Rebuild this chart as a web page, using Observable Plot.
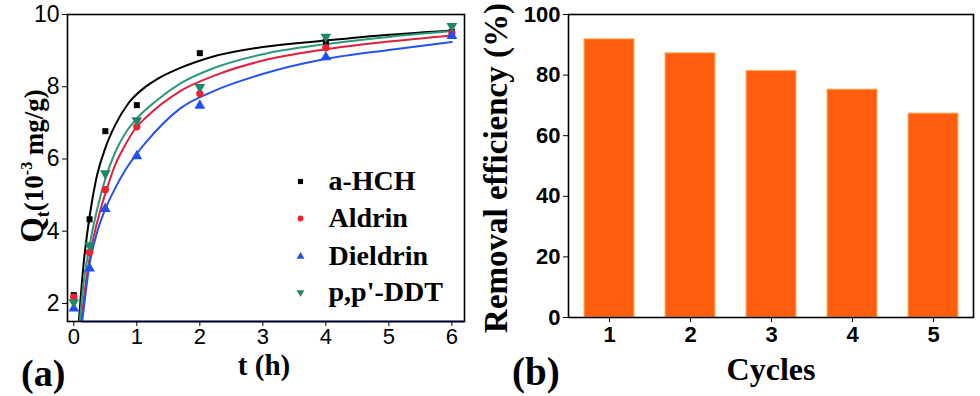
<!DOCTYPE html>
<html><head><meta charset="utf-8">
<script src="https://cdn.jsdelivr.net/npm/d3@7"></script>
<script src="https://cdn.jsdelivr.net/npm/@observablehq/plot@0.6"></script>
<style>
html,body{margin:0;padding:0;background:#fff;}
#wrap{position:relative;width:980px;height:396px;overflow:hidden;background:#fff;}
#a,#b{position:absolute;top:0;}
#a{left:0px} #b{left:480px}
svg{overflow:visible}
</style></head><body><div id="wrap"><div id="a"></div><div id="b"></div></div>
<script>
// ---------- Panel (a) data ----------
const series = ["a-HCH", "Aldrin", "Dieldrin", "p,p'-DDT"];
const tPoints = [0, 0.25, 0.5, 1, 2, 4, 6];
const qHCH      = [2.23, 4.33, 6.77, 7.49, 8.93, 9.24, 9.52];
const qAldrin   = [2.17, 3.41, 5.15, 6.89, 7.81, 9.08, 9.49];
const qDieldrin = [1.86, 2.97, 4.62, 6.08, 7.48, 8.82, 9.41];
const qDDT      = [2.03, 3.61, 5.60, 7.07, 7.99, 9.38, 9.68];

// fitted curves
const fitT_HCH = [0.08, 0.15, 0.25, 0.35, 0.5, 0.66, 0.87, 1.14, 1.33, 1.69, 2.2, 3.0, 4.0, 5.0, 6.0];
const fitQ_HCH = [1.5, 3.0, 4.4, 5.4, 6.3, 6.95, 7.55, 8.0, 8.22, 8.52, 8.83, 9.1, 9.28, 9.44, 9.56];
const fitT_Aldrin = [0.117, 0.2, 0.265, 0.42, 0.52, 0.66, 0.82, 0.98, 1.14, 1.69, 2.22, 2.97, 3.97, 5.0, 6.0];
const fitQ_Aldrin = [1.5, 2.7, 3.41, 4.57, 5.15, 5.85, 6.4, 6.85, 7.14, 7.88, 8.3, 8.71, 9.03, 9.25, 9.42];
const fitT_Dieldrin = [0.133, 0.2, 0.238, 0.35, 0.5, 0.66, 0.82, 0.98, 1.14, 1.69, 2.22, 2.97, 3.97, 5.0, 6.0];
const fitQ_Dieldrin = [1.5, 2.45, 2.96, 3.85, 4.61, 5.2, 5.7, 6.1, 6.45, 7.4, 7.88, 8.34, 8.76, 9.02, 9.24];
const fitT_DDT = [0.095, 0.15, 0.25, 0.37, 0.5, 0.66, 0.82, 1.0, 1.3, 1.7, 2.2, 3.0, 4.0, 5.0, 6.0];
const fitQ_DDT = [1.5, 2.5, 3.6, 4.6, 5.45, 6.2, 6.72, 7.12, 7.6, 8.1, 8.5, 8.9, 9.18, 9.38, 9.54];

const xTicksA = [0, 1, 2, 3, 4, 5, 6];
const yTicksA = [2, 4, 6, 8, 10];

// ---------- Panel (b) data ----------
const cycles = [1, 2, 3, 4, 5];
const efficiency = [91.8, 87.2, 81.4, 75.2, 67.3];
const yTicksB = [0, 20, 40, 60, 80, 100];

// ---------- styling ----------
const pointColors = ["#000000", "#f2202e", "#1f4ff2", "#21866a"];
const lineColors  = ["#000000", "#e21f3c", "#2453ee", "#2a9a7c"];
const triDown = {
  draw(context, size) {
    const s = Math.sqrt(size / (Math.sqrt(3) / 4));
    const h = s * Math.sqrt(3) / 2;
    context.moveTo(0, h * 2 / 3);
    context.lineTo(s / 2, -h / 3);
    context.lineTo(-s / 2, -h / 3);
    context.closePath();
  }
};
const symbols = ["square", "circle", "triangle", triDown];
const sizes = [3.4, 3.7, 4.0, 4.0];

const qs = [qHCH, qAldrin, qDieldrin, qDDT];
const fitTs = [fitT_HCH, fitT_Aldrin, fitT_Dieldrin, fitT_DDT];
const fitQs = [fitQ_HCH, fitQ_Aldrin, fitQ_Dieldrin, fitQ_DDT];

const serif = "'Liberation Serif', 'Times New Roman', serif";
const sans = "'Liberation Sans', Arial, sans-serif";

// ---------- Panel (a) ----------
const marksA = [];
series.forEach((s, i) => {
  const fit = fitTs[i].map((t, j) => ({t, q: fitQs[i][j]}));
  marksA.push(Plot.line(fit, {x: "t", y: "q", stroke: lineColors[i], strokeWidth: 2, curve: "monotone-x", clip: true}));
});
// clipped blue fit running along the lower axis
marksA.push(Plot.ruleY([1.5], {x1: fitT_Dieldrin[0], x2: 6.2, stroke: lineColors[2], strokeWidth: 2}));
series.forEach((s, i) => {
  const pts = tPoints.map((t, j) => ({t, q: qs[i][j]}));
  marksA.push(Plot.dot(pts, {x: "t", y: "q", symbol: () => symbols[i], fill: pointColors[i], stroke: "none", r: sizes[i]}));
});
// legend
const legendDy = [167, 204, 242, 278];
series.forEach((s, i) => {
  marksA.push(Plot.dot([s], {frameAnchor: "top-left", dx: 233, dy: legendDy[i], symbol: () => symbols[i], fill: pointColors[i], r: 2.9}));
  marksA.push(Plot.text([s], {frameAnchor: "top-left", dx: 261, dy: legendDy[i], text: d => d, textAnchor: "start", lineAnchor: "middle", fontFamily: serif, fontWeight: "bold", fontSize: 28, fill: "#000"}));
});
marksA.push(Plot.frame({stroke: "#000", strokeWidth: 1.6}));
marksA.push(Plot.axisX({ticks: xTicksA, tickFormat: d => String(d), tickSize: 5, tickPadding: 2, label: null, fontSize: 22, fontFamily: sans}));
marksA.push(Plot.axisY({ticks: yTicksA, tickFormat: d => String(d), tickSize: 5, tickPadding: 3, label: null, fontSize: 23, fontFamily: sans}));

const plotA = Plot.plot({
  width: 480, height: 396,
  marginLeft: 67, marginRight: 16, marginTop: 14, marginBottom: 75,
  x: {domain: [-0.1, 6.2]},
  y: {domain: [1.5, 10]},
  style: {background: "transparent", color: "#000", fontFamily: sans},
  marks: marksA
});
document.getElementById("a").appendChild(plotA);

// ---------- Panel (b) ----------
const barData = cycles.map((c, i) => ({c, e: efficiency[i]}));
const plotB = Plot.plot({
  width: 500, height: 396,
  marginLeft: 88, marginRight: 7, marginTop: 14, marginBottom: 79,
  x: {type: "band", domain: cycles, paddingInner: 0.388, paddingOuter: 0.171},
  y: {domain: [0, 100]},
  style: {background: "transparent", color: "#000", fontFamily: sans},
  marks: [
    Plot.barY(barData, {x: "c", y: "e", fill: "#ff5e10", stroke: "#ffb560", strokeWidth: 1}),
    Plot.frame({stroke: "#000", strokeWidth: 1.6}),
    Plot.axisX({tickSize: 5, tickPadding: 4, label: null, fontSize: 22, fontWeight: "bold", fontFamily: sans}),
    Plot.axisY({ticks: yTicksB, tickSize: 5, tickPadding: 3, label: null, fontSize: 22, fontWeight: "bold", fontFamily: sans})
  ]
});
document.getElementById("b").appendChild(plotB);

// ---------- axis titles and panel tags ----------
function addText(svgEl, x, y, txt, opts) {
  return d3.select(svgEl).append("text")
    .attr("x", x).attr("y", y)
    .attr("font-family", serif).attr("font-weight", "bold")
    .attr("font-size", opts.size).attr("text-anchor", opts.anchor || "middle")
    .attr("fill", "#000").text(txt);
}
const svgA = d3.select("#a svg").node();
const svgB = d3.select("#b svg").node();

// Q_t (10^-3 mg/g)
const yl = d3.select(svgA).append("text")
  .attr("transform", "translate(43,166) rotate(-90)")
  .attr("text-anchor", "middle")
  .attr("font-family", serif).attr("font-weight", "bold").attr("font-size", 27).attr("fill", "#000");
yl.append("tspan").attr("font-size", 33).text("Q");
yl.append("tspan").attr("font-size", 18).attr("dy", 6).text("t");
yl.append("tspan").attr("dy", -6).text("(10");
yl.append("tspan").attr("font-size", 16).attr("dy", -11).text("-3");
yl.append("tspan").attr("dy", 11).text(" mg/g)");

addText(svgA, 264, 375, "t (h)", {size: 29});
addText(svgA, 21, 386, "(a)", {size: 38, anchor: "start"});

d3.select(svgB).append("text")
  .attr("transform", "translate(27,168) rotate(-90)")
  .attr("text-anchor", "middle")
  .attr("font-family", serif).attr("font-weight", "bold").attr("font-size", 33).attr("fill", "#000")
  .text("Removal efficiency (%)");
addText(svgB, 291, 380, "Cycles", {size: 32});
addText(svgB, 32, 385, "(b)", {size: 39, anchor: "start"});
</script>
</body></html>
